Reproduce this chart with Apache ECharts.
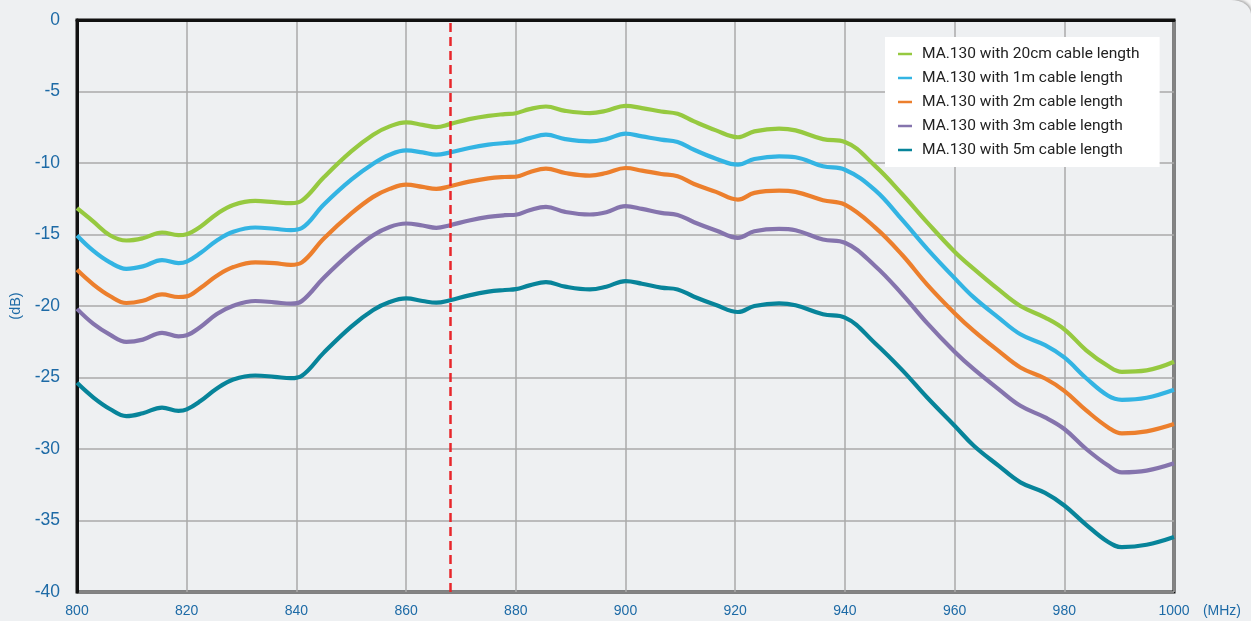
<!DOCTYPE html>
<html>
<head>
<meta charset="utf-8">
<script src="https://cdn.jsdelivr.net/npm/echarts@6/dist/echarts.min.js"></script>
<style>
html,body{margin:0;padding:0;background:#f7f7f7;overflow:hidden;}
#wrap{width:1251px;height:621px;filter:drop-shadow(1px -1px 1.5px rgba(0,0,0,0.35));}
#chart{width:1251px;height:621px;border-top-right-radius:20px 14px;overflow:hidden;}
</style>
</head>
<body>
<div id="wrap"><div id="chart"></div></div>
<script>
const freq = [800,803,806,809,812,815.5,818.5,820,822.5,825.5,828.5,832.5,836,839,841,845,850,854,857,860,863,865.5,868,871.5,875,878,880,882.5,885.5,889,893.5,896.5,900,903,906.5,909.5,912.5,916.5,920.5,923.5,928,931,936,940,945.5,950.5,955,960,963.5,968,972,976.5,980,984,988,990.5,995,1000];
const cable20cm = [-13.15,-14.1,-15.05,-15.42,-15.26,-14.86,-15.05,-14.98,-14.45,-13.56,-12.93,-12.65,-12.74,-12.81,-12.63,-11.0,-9.19,-8.02,-7.44,-7.16,-7.33,-7.49,-7.28,-6.93,-6.7,-6.58,-6.52,-6.23,-6.05,-6.35,-6.51,-6.35,-6.0,-6.16,-6.4,-6.56,-7.09,-7.72,-8.2,-7.79,-7.6,-7.72,-8.33,-8.53,-10.2,-12.2,-14.15,-16.2,-17.4,-18.84,-20.0,-20.81,-21.63,-23.1,-24.2,-24.6,-24.5,-23.9];
const cable1m = [-15.07,-16.15,-16.95,-17.4,-17.23,-16.79,-17.0,-16.9,-16.3,-15.42,-14.81,-14.51,-14.6,-14.7,-14.55,-12.9,-11.16,-10.05,-9.42,-9.12,-9.26,-9.42,-9.26,-8.95,-8.72,-8.6,-8.53,-8.26,-8.02,-8.33,-8.49,-8.33,-7.95,-8.14,-8.37,-8.53,-9.07,-9.7,-10.12,-9.72,-9.53,-9.6,-10.23,-10.47,-11.9,-14.0,-16.0,-18.05,-19.4,-20.81,-21.98,-22.74,-23.6,-25.05,-26.28,-26.56,-26.42,-25.86];
const cable2m = [-17.47,-18.5,-19.3,-19.79,-19.63,-19.19,-19.37,-19.33,-18.74,-17.88,-17.28,-16.95,-17.0,-17.12,-16.95,-15.28,-13.53,-12.37,-11.81,-11.51,-11.67,-11.81,-11.63,-11.3,-11.07,-10.98,-10.96,-10.65,-10.4,-10.7,-10.88,-10.7,-10.35,-10.53,-10.77,-10.93,-11.47,-12.02,-12.56,-12.09,-11.93,-12.02,-12.6,-12.91,-14.5,-16.45,-18.5,-20.5,-21.74,-23.14,-24.3,-25.07,-25.93,-27.3,-28.49,-28.91,-28.77,-28.26];
const cable3m = [-20.2,-21.25,-22.0,-22.51,-22.35,-21.88,-22.12,-22.05,-21.47,-20.56,-19.98,-19.65,-19.74,-19.84,-19.65,-18.02,-16.23,-15.05,-14.47,-14.23,-14.37,-14.53,-14.35,-14.02,-13.77,-13.65,-13.62,-13.3,-13.07,-13.42,-13.6,-13.44,-13.02,-13.21,-13.49,-13.63,-14.14,-14.72,-15.23,-14.77,-14.6,-14.7,-15.35,-15.58,-17.2,-19.2,-21.2,-23.2,-24.42,-25.81,-26.98,-27.79,-28.6,-30.0,-31.16,-31.63,-31.51,-31.0];
const cable5m = [-25.37,-26.4,-27.2,-27.7,-27.5,-27.1,-27.33,-27.23,-26.65,-25.77,-25.14,-24.86,-24.95,-25.05,-24.88,-23.26,-21.44,-20.28,-19.72,-19.47,-19.65,-19.77,-19.6,-19.26,-19.0,-18.88,-18.82,-18.56,-18.33,-18.65,-18.84,-18.65,-18.26,-18.44,-18.72,-18.84,-19.35,-19.93,-20.42,-20.0,-19.81,-19.95,-20.58,-20.81,-22.6,-24.5,-26.4,-28.37,-29.77,-31.16,-32.33,-33.07,-33.95,-35.3,-36.51,-36.86,-36.7,-36.16];
const seriesNames = ['MA.130 with 20cm cable length','MA.130 with 1m cable length','MA.130 with 2m cable length','MA.130 with 3m cable length','MA.130 with 5m cable length'];
const seriesValues = [cable20cm, cable1m, cable2m, cable3m, cable5m];
const seriesColors = ['#96c940','#33b4e3','#ec7f2d','#8574ad','#07849a'];
const markerFreq = 868;

const blue = '#1d6aa6';
const chart = echarts.init(document.getElementById('chart'));
const series = seriesValues.map((vals, i) => ({
  name: seriesNames[i],
  type: 'line',
  data: freq.map((f, j) => [f, vals[j]]),
  smooth: 0.4,
  symbol: 'none',
  lineStyle: { color: seriesColors[i], width: 4.2 },
  itemStyle: { color: seriesColors[i] },
  z: 3
}));
series.push({
  type: 'line',
  data: [],
  silent: true,
  markLine: {
    silent: true,
    symbol: 'none',
    label: { show: false },
    lineStyle: { color: '#e8262b', width: 2.5, type: [9, 5] },
    data: [{ xAxis: markerFreq }]
  }
});
chart.setOption({
  backgroundColor: '#eef0f2',
  animation: false,
  graphic: [{
    type: 'text',
    right: 10, top: 604,
    style: { text: '(MHz)', fill: blue, fontSize: 14, fontFamily: 'Liberation Sans' }
  }],
  grid: {
    left: 77, right: 77, top: 20, bottom: 29,
    show: true, borderColor: '#111', borderWidth: 3, backgroundColor: 'transparent'
  },
  legend: {
    orient: 'vertical',
    left: 885, top: 37,
    backgroundColor: '#ffffff',
    padding: [8, 20, 8, 13],
    itemGap: 6,
    itemWidth: 14, itemHeight: 2.5,
    icon: 'rect',
    data: seriesNames,
    textStyle: { fontFamily: 'Roboto', fontSize: 15.5, color: '#222', lineHeight: 18, padding: [0, 0, 0, 5] }
  },
  xAxis: {
    type: 'value', min: 800, max: 1000, interval: 20,
    axisLine: { show: true, lineStyle: { color: '#111', width: 3 } },
    axisTick: { show: false },
    axisLabel: { color: blue, fontSize: 14, fontFamily: 'Liberation Sans', margin: 12, formatter: v => String(v) },
    splitLine: { show: true, lineStyle: { color: '#aaaaaa', width: 1.5 } }
  },
  yAxis: {
    type: 'value', min: -40, max: 0, interval: 5,
    name: '(dB)', nameLocation: 'middle', nameRotate: 90, nameGap: 52,
    nameTextStyle: { color: blue, fontSize: 14.5, fontFamily: 'Liberation Sans' },
    axisLine: { show: true, lineStyle: { color: '#111', width: 3 } },
    axisTick: { show: false },
    axisLabel: { color: blue, fontSize: 17.5, fontFamily: 'Liberation Sans', margin: 17 },
    splitLine: { show: true, lineStyle: { color: '#aaaaaa', width: 1.5 } }
  },
  series: series
});
</script>
</body>
</html>
